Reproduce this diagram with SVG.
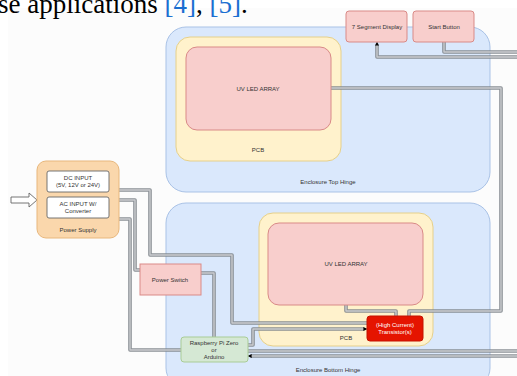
<svg xmlns="http://www.w3.org/2000/svg" width="517" height="376" viewBox="0 0 517 376">
<style>
.t{font-family:"Liberation Sans",Arial,sans-serif;font-size:6px;fill:#333;text-anchor:middle}
.w{fill:#fff}
.enc{fill:#dae8fc;stroke:#a9c2e6;stroke-width:1}
.pcb{fill:#fff2cc;stroke:#e6d08a;stroke-width:1}
.led{fill:#f8cecc;stroke:#d98a87;stroke-width:1}
.lo{fill:none;stroke:#80858c;stroke-width:3.6;stroke-opacity:0.9;stroke-linejoin:round}
.li{fill:none;stroke:#f4f4f4;stroke-width:1.4;stroke-opacity:0.6;stroke-linejoin:round}
.ib{fill:#fff;stroke:#666;stroke-width:0.9}
</style>
<defs>
<marker id="ar" viewBox="0 0 10 10" refX="9" refY="5" markerWidth="4" markerHeight="4" orient="auto" markerUnits="userSpaceOnUse">
<path d="M0,0 L10,5 L0,10 z" fill="#000"/>
</marker>
</defs>
<rect x="0" y="0" width="517" height="376" fill="#fff"/>
<rect x="8" y="8" width="509" height="368" fill="#fcfcfc"/>
<text x="-2" y="13" font-family="'Liberation Serif','Times New Roman',serif" font-size="27" fill="#000">se applications <tspan fill="#1a6fd1">[4]</tspan>, <tspan fill="#1a6fd1">[5]</tspan>.</text>

<g id="enclosure-top">
<rect class="enc" x="166" y="27" width="324" height="165" rx="20"/>
<text class="t" x="328" y="184">Enclosure Top Hinge</text>
</g>
<g id="enclosure-bottom">
<rect class="enc" x="166" y="203" width="324" height="185" rx="20"/>
<text class="t" x="328" y="372">Enclosure Bottom Hinge</text>
</g>
<g id="pcb-top">
<rect class="pcb" x="176" y="37" width="165" height="124" rx="14"/>
<text class="t" x="258" y="152">PCB</text>
</g>
<g id="pcb-bottom">
<rect class="pcb" x="259" y="213" width="174" height="133" rx="14"/>
<text class="t" x="346" y="340">PCB</text>
</g>

<g id="connectors">
<path class="lo" d="M119,190 H150 V255 H232 V323 H367"/>
<path class="li" d="M119,190 H150 V255 H232 V323 H367"/>
<path class="lo" d="M119,200 H135 V270 H140"/>
<path class="li" d="M119,200 H135 V270 H140"/>
<path class="lo" d="M119,219 H130 V350 H181"/>
<path class="li" d="M119,219 H130 V350 H181"/>
<path class="lo" d="M201,273 H214 V337"/>
<path class="li" d="M201,273 H214 V337"/>
<path class="lo" d="M248,345 H253 V329 H364"/>
<path class="li" d="M248,345 H253 V329 H364"/>
<path class="lo" d="M346,305 V311 H396 V316"/>
<path class="li" d="M346,305 V311 H396 V316"/>
<path class="lo" d="M409,316 V311 H501 V88 H331"/>
<path class="li" d="M409,316 V311 H501 V88 H331"/>
<path class="lo" d="M444,42 V52 H520"/>
<path class="li" d="M444,42 V52 H520"/>
<path class="lo" d="M520,57 H377 V45"/>
<path class="li" d="M520,57 H377 V45"/>
<path class="lo" d="M248,351 H520"/>
<path class="li" d="M248,351 H520"/>
<path class="lo" d="M520,356 H251"/>
<path class="li" d="M520,356 H251"/>
<path d="M360,329 H367" stroke="none" fill="none" marker-end="url(#ar)"/>
<path d="M377,48 V42" stroke="none" fill="none" marker-end="url(#ar)"/>
<path d="M254,356 H248" stroke="none" fill="none" marker-end="url(#ar)"/>
</g>

<g id="input-arrow">
<path d="M11,197 H29 V193 L37,200 L29,207 V203 H11 Z" fill="#fff" stroke="#666" stroke-width="0.9"/>
</g>
<g id="power-supply">
<rect x="37" y="161" width="82" height="77" rx="9" fill="#fad7ac" stroke="#e8b77c" stroke-width="1"/>
<text class="t" x="78" y="232">Power Supply</text>
</g>
<g id="dc-input">
<rect class="ib" x="47" y="171" width="62" height="21" rx="2"/>
<text class="t" x="78" y="180">DC INPUT</text>
<text class="t" x="78" y="187">(5V, 12V or 24V)</text>
</g>
<g id="ac-input">
<rect class="ib" x="47" y="197" width="62" height="21" rx="2"/>
<text class="t" x="78" y="206">AC INPUT W/</text>
<text class="t" x="78" y="213">Converter</text>
</g>
<g id="led-top">
<rect class="led" x="186" y="47" width="145" height="83" rx="11"/>
<text class="t" x="258" y="91">UV LED ARRAY</text>
</g>
<g id="led-bottom">
<rect class="led" x="268" y="223" width="155" height="82" rx="11"/>
<text class="t" x="346" y="266">UV LED ARRAY</text>
</g>
<g id="seven-segment">
<rect class="led" x="346" y="11" width="61" height="31" rx="3"/>
<text class="t" x="377" y="29">7 Segment Display</text>
</g>
<g id="start-button">
<rect class="led" x="413" y="11" width="61" height="31" rx="3"/>
<text class="t" x="444" y="29">Start Button</text>
</g>
<g id="power-switch">
<rect x="140" y="264" width="61" height="31" fill="#f8cecc" stroke="#d98a87" stroke-width="1"/>
<text class="t" x="170" y="282">Power Switch</text>
</g>
<g id="raspberry-pi">
<rect x="181" y="337" width="67" height="25" rx="3" fill="#d5e8d4" stroke="#a9cc96" stroke-width="1"/>
<text class="t" x="214" y="345">Raspberry Pi Zero</text>
<text class="t" x="214" y="352">or</text>
<text class="t" x="214" y="359">Arduino</text>
</g>
<g id="transistor">
<rect x="367" y="316" width="56" height="25" rx="3" fill="#e51400" stroke="#c41200" stroke-width="1"/>
<text class="t w" x="395" y="327">(High Current)</text>
<text class="t w" x="395" y="334">Transistor(s)</text>
</g>
</svg>
